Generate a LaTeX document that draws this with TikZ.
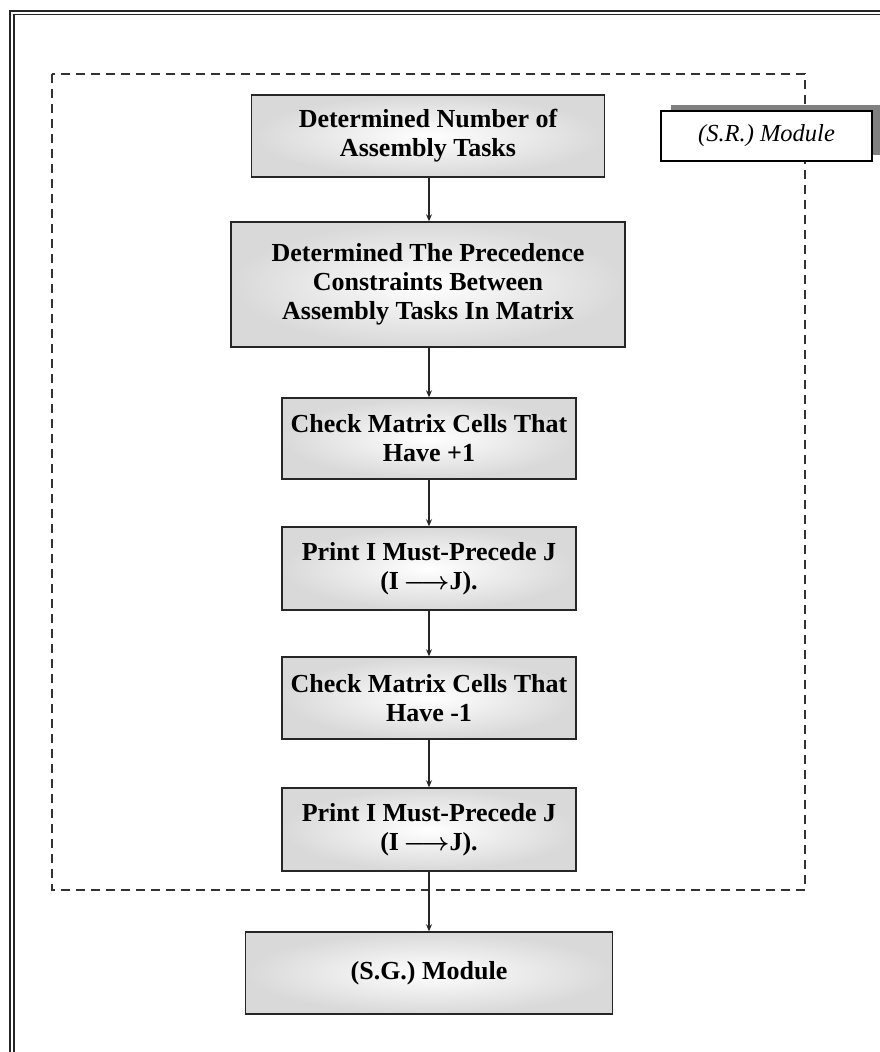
\documentclass[tikz,border=0pt]{standalone}
\usepackage{fontspec}
\setmainfont{Liberation Serif}
\usetikzlibrary{arrows.meta}
\newcommand{\ijarrow}{\,{\boldmath$\longrightarrow$}}
\begin{document}
\begin{tikzpicture}[x=1pt,y=-1pt,
  stepbox/.style={draw=black!85, line width=1.5pt, inner color=white, outer color=black!15,
    align=center, font=\fontsize{26}{29}\selectfont\bfseries, inner sep=2pt},
  flow/.style={draw=black!85, line width=1.3pt, -{Stealth[length=7pt,width=6pt]}},
  group/.style={draw=black!80, line width=1.7pt, dash pattern=on 9pt off 6pt},
  tag/.style={draw=black, line width=1.5pt, fill=white, minimum width=211pt, minimum height=50pt,
    font=\fontsize{24.5}{28}\selectfont\itshape}]
  \useasboundingbox (0,0) rectangle (880,1052);
  \fill[white] (0,0) rectangle (880,1052);
  % page frame (double rule, open to the right and bottom)
  \draw[draw=black!85, line width=1.8pt, double=white, double distance=2pt]
    (12,1070) -- (12,12.5) -- (900,12.5);
  % module boundary
  \draw[group] (52,74) rectangle (805,890);
  % module tag with offset shadow
  \fill[black!50] (671,105) rectangle (890,155);
  \node[tag] (sr) at (766.5,136) {(S.R.) Module};
  % steps
  \node[stepbox, minimum width=353pt, minimum height=82pt] (b1) at (428,136)
    {Determined Number of\\Assembly Tasks};
  \node[stepbox, minimum width=394pt, minimum height=125pt] (b2) at (428,284.5)
    {Determined The Precedence\\Constraints Between\\Assembly Tasks In Matrix};
  \node[stepbox, minimum width=294pt, minimum height=81pt] (b3) at (429,438.5)
    {Check Matrix Cells That\\Have +1};
  \node[stepbox, minimum width=294pt, minimum height=83pt] (b4) at (429,568.5)
    {Print I Must-Precede J\\(I\ijarrow J).};
  \node[stepbox, minimum width=294pt, minimum height=82pt] (b5) at (429,698)
    {Check Matrix Cells That\\Have -1};
  \node[stepbox, minimum width=294pt, minimum height=83pt] (b6) at (429,829.5)
    {Print I Must-Precede J\\(I\ijarrow J).};
  \node[stepbox, minimum width=367pt, minimum height=82pt] (b7) at (429,973)
    {(S.G.) Module};
  % connectors
  \draw[flow] (b1.south -| b3.north) -- (b2.north -| b3.north);
  \draw[flow] (b2.south -| b3.north) -- (b3.north);
  \draw[flow] (b3) -- (b4);
  \draw[flow] (b4) -- (b5);
  \draw[flow] (b5) -- (b6);
  \draw[flow] (b6) -- (b7);
\end{tikzpicture}
\end{document}
